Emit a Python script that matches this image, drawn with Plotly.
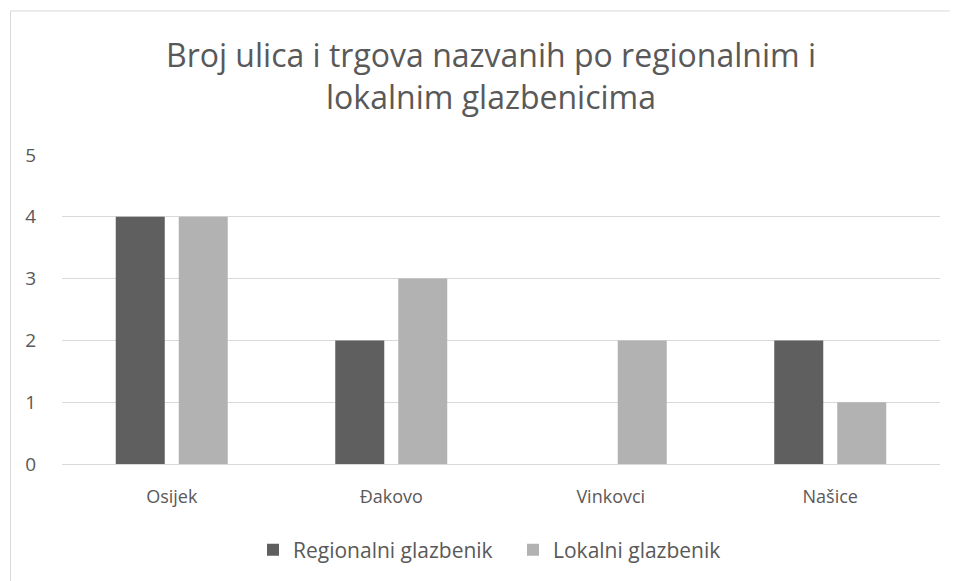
import plotly.graph_objects as go

categories = ["Osijek", "Đakovo", "Vinkovci", "Našice"]
regionalni = [4, 2, 0, 2]
lokalni = [4, 3, 2, 1]
series_names = ["Regionalni glazbenik", "Lokalni glazbenik"]
title_text = "Broj ulica i trgova nazvanih po regionalnim i<br>lokalnim glazbenicima"

# page body has an 8px margin, so work in page coords minus 8
OFF = 8
W, H = 950, 573
L, R, T, B = 54, 18, 147, 116
pw, ph = W - L - R, H - T - B

def px_x(x):
    return (x - OFF - L) / pw

def px_y(y):
    return (H - B - (y - OFF)) / ph

fig = go.Figure()
fig.add_trace(go.Bar(x=categories, y=regionalni, name=series_names[0],
                     marker=dict(color="#5f5f5f", line=dict(width=0))))
fig.add_trace(go.Bar(x=categories, y=lokalni, name=series_names[1],
                     marker=dict(color="#b2b2b2", line=dict(width=0))))

font = "Open Sans, Noto Sans, sans-serif"
fig.update_layout(
    width=W, height=H,
    margin=dict(l=L, r=R, t=T, b=B),
    paper_bgcolor="white", plot_bgcolor="white",
    barmode="group", bargap=0.426, bargroupgap=0.222,
    title=dict(text=title_text, x=(491 - OFF) / W, xanchor="center",
               y=1 - (67 - OFF) / H, yanchor="middle",
               font=dict(family=font, size=32, color="#595959")),
    font=dict(family=font, color="#595959", size=19),
    legend=dict(orientation="h", x=px_x(513), xanchor="center", y=px_y(550), yanchor="middle",
                font=dict(size=21, color="#595959"), itemwidth=30, traceorder="normal",
                entrywidth=215, entrywidthmode="pixels"),
    xaxis=dict(showgrid=False, showline=True, linecolor="#d9d9d9", linewidth=1,
               ticks="", ticklabelstandoff=16, tickfont=dict(size=18, color="#595959")),
    yaxis=dict(range=[0, 5], dtick=1, showgrid=True, gridcolor="#d9d9d9", gridwidth=1,
               zeroline=False, showline=False, ticks="", ticklabelstandoff=25,
               tickfont=dict(size=19, color="#595959")),
    shapes=[dict(type="rect", xref="paper", yref="paper",
                 x0=px_x(10.5), x1=px_x(970), y0=px_y(600), y1=px_y(10.5),
                 line=dict(color="#d9d9d9", width=1), fillcolor="rgba(0,0,0,0)", layer="below")],
)

fig.write_html("out.html")
